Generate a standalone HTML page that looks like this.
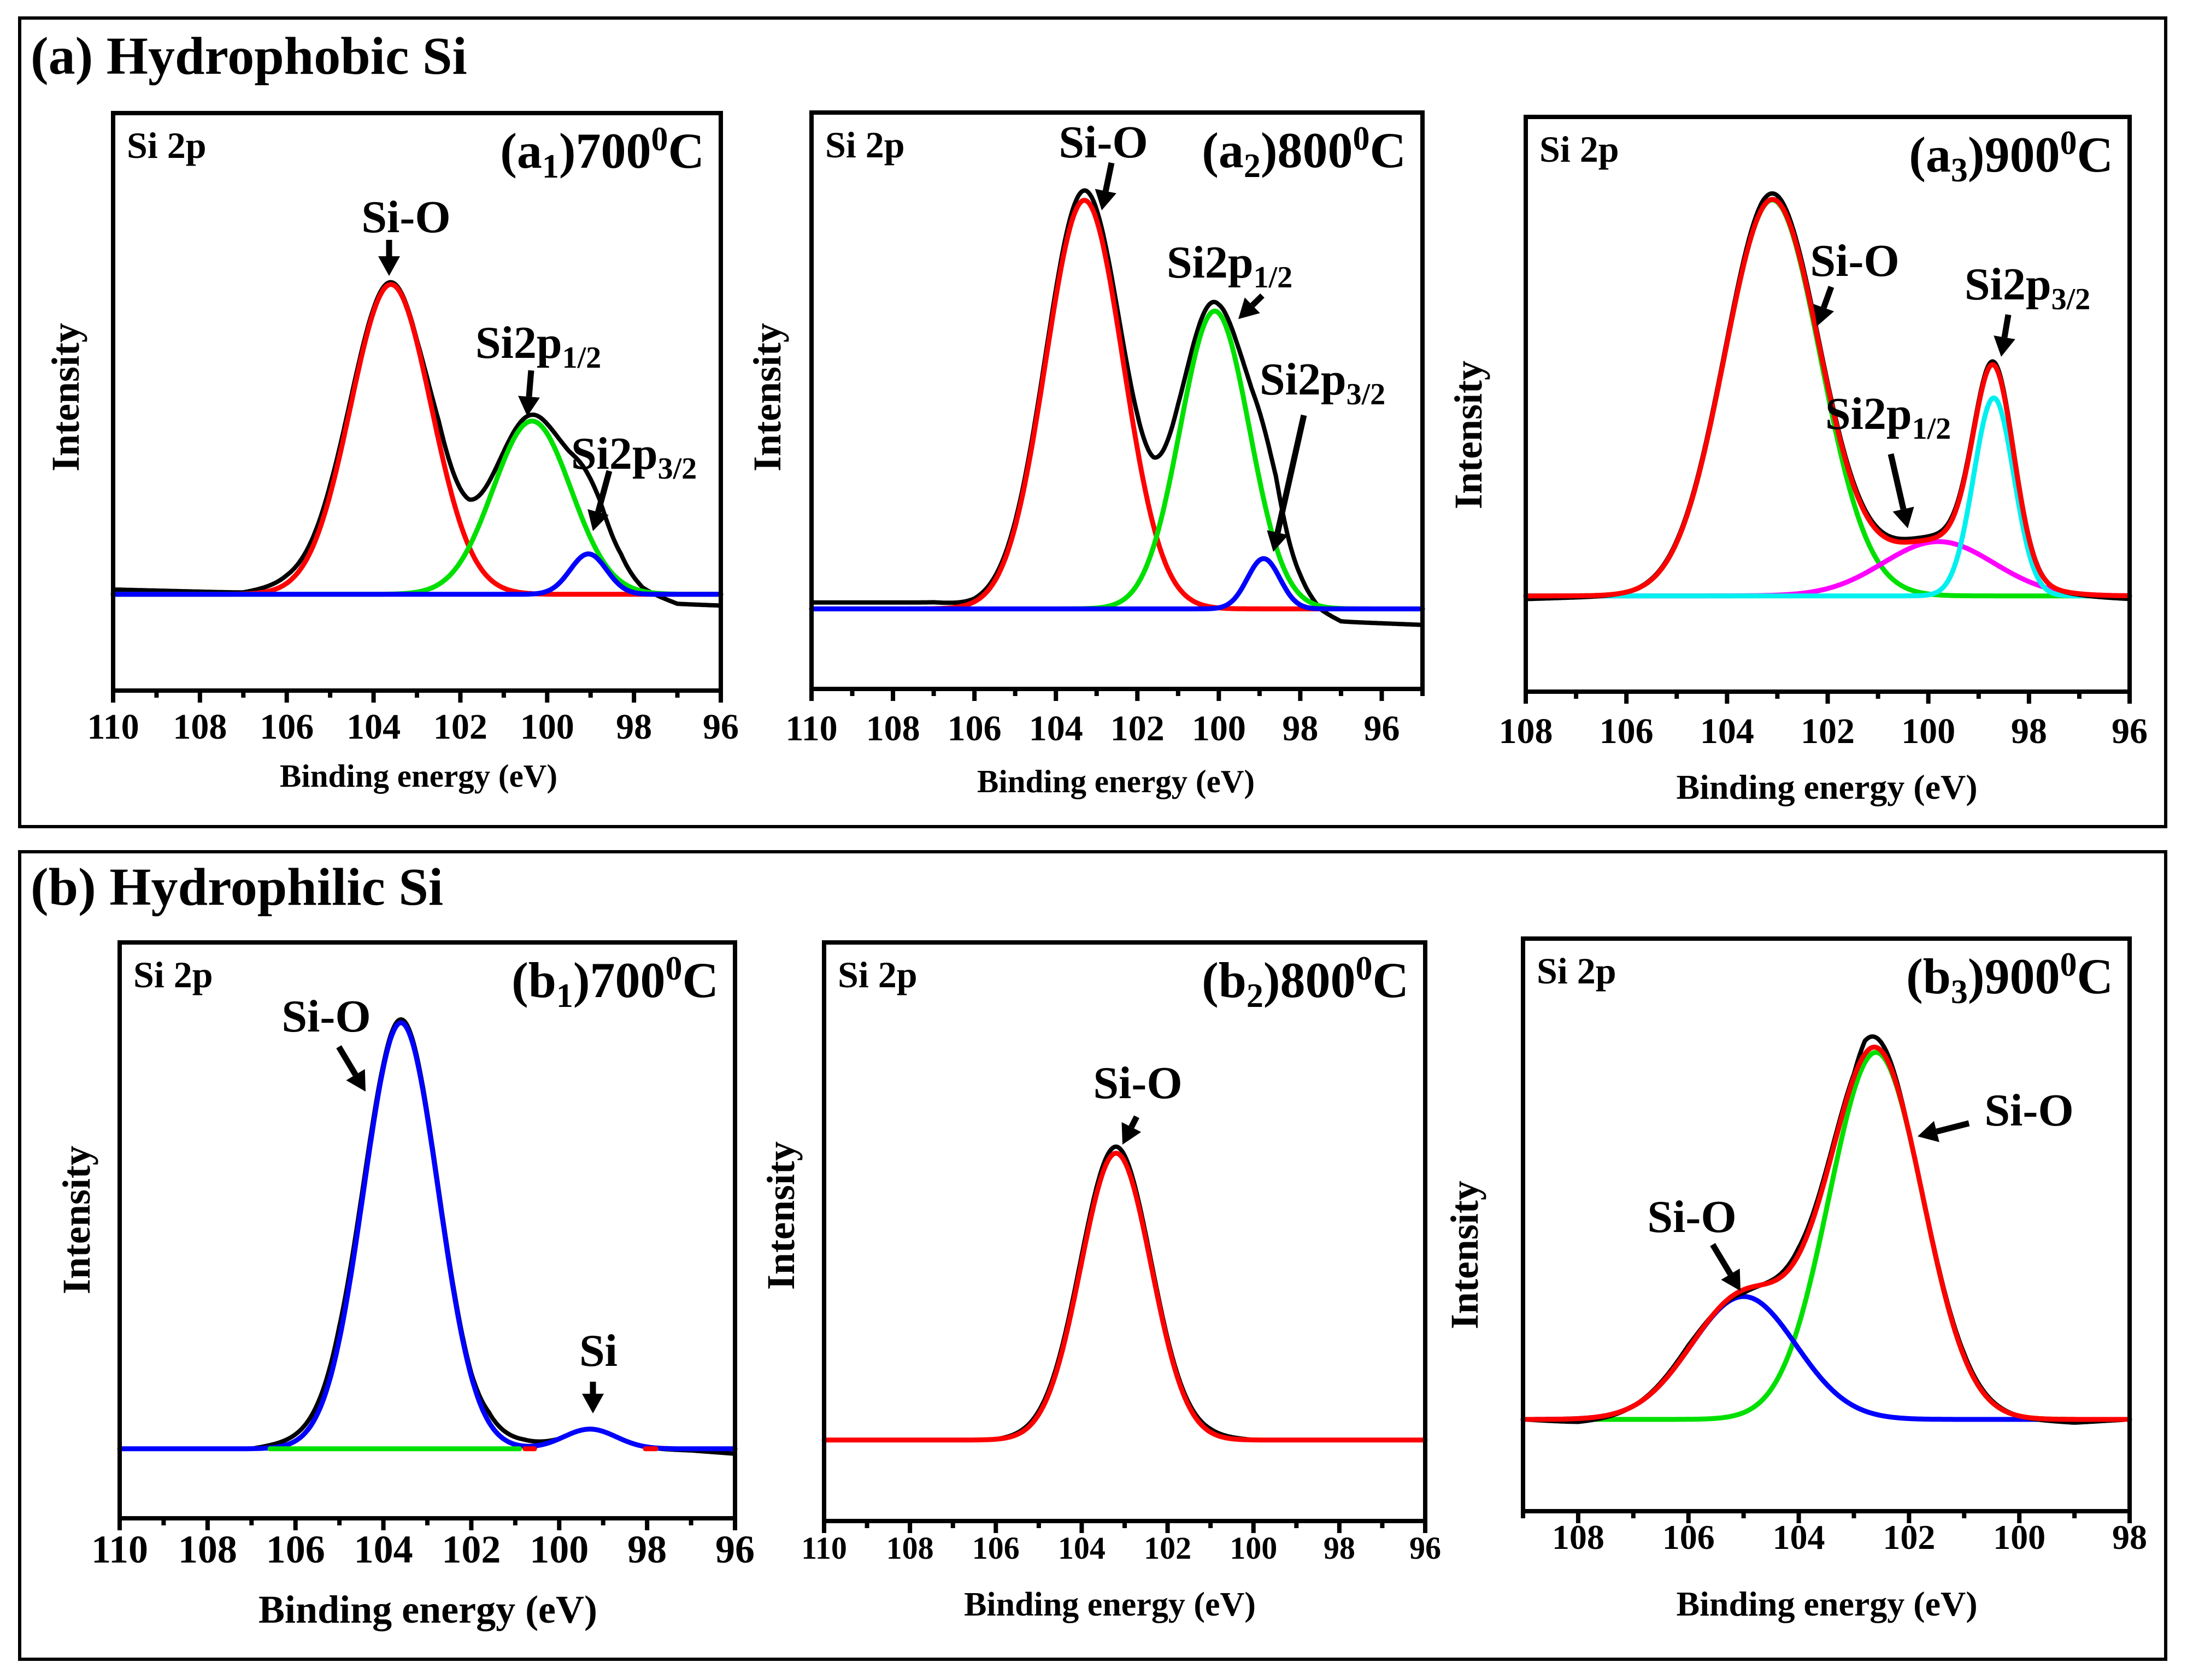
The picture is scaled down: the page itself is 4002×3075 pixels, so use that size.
<!DOCTYPE html>
<html><head><meta charset="utf-8">
<style>
html,body{margin:0;padding:0;background:#fff;}
svg{display:block;}
text{font-family:"Liberation Serif",serif;font-weight:bold;fill:#000;}
</style></head>
<body>
<svg id="fig" width="4002" height="3075" viewBox="0 0 4002 3075" xmlns="http://www.w3.org/2000/svg">
<rect x="0" y="0" width="4002" height="3075" fill="#fff"/>
<rect x="36" y="33" width="3927" height="1480" fill="none" stroke="#000" stroke-width="6"/>
<rect x="36" y="1559" width="3927" height="1478" fill="none" stroke="#000" stroke-width="6"/>
<text x="56" y="135" font-size="98">(a) Hydrophobic Si</text>
<text x="56" y="1656" font-size="98">(b) Hydrophilic Si</text>
</svg>
<script>
// ---- data arrays ----
const a1Centers=[103.6,100.35,99.05]; const a1Heights=[96.6,54,12.6]; const a1Sigmas=[0.93,0.9,0.42];
const a1DevE=[110,107,106,105,104,103,102.5,101.8,101,100,99.5,98.8,98.3,97.8,97,96];
const a1DevV=[1.5,0.5,2.5,3,1,0,3,0,1,2,3,7,6,1,-3,-3.5];
const a2Centers=[103.3,100.1,98.9]; const a2Heights=[127.6,93,15.7]; const a2Sigmas=[0.95,0.85,0.4];
const a2DevE=[110,107,106,104.5,103.3,102,101.6,101,100,99.2,98.6,98,97.5,97,96,95];
const a2DevV=[2,2,1,2,3,3,2,4,2,4,10,5,-1,-4,-4.5,-5];
const a3Centers=[103.1,99.8,98.7]; const a3Heights=[124,17,62]; const a3Sigmas=[0.95,1.1,0.4];
const a3DevE=[108,106,104,103.3,102,100.5,99.5,98.5,97.5,96];
const a3DevV=[-1,0,1,2,1,1,1,1,0,-1];
const b1Centers=[103.6,99.3]; const b1Heights=[130,6]; const b1Sigmas=[0.85,0.6];
const b1DevE=[110,107,106,105,104,102,101.6,100.8,100,98,97,96];
const b1DevV=[0,0,2,4,1,1,3,2,0,0,-0.5,-1.5];
const b2Centers=[103.2]; const b2Heights=[87.5]; const b2Sigmas=[0.82];
const b2DevE=[110,106,105,104,103.2,102,101,100,98,96];
const b2DevV=[0,0,1,2,2,1,1,0,0,0];
const b3Centers=[102.6,105.0]; const b3Heights=[112,37.5]; const b3Sigmas=[0.85,0.95];
const b3DevE=[109,108,107,106,105,104,103,102.8,102,101,100,99,98];
const b3DevV=[0,-1,0,1,-1,2,1,4,0,1,0,-1,0];
const ticksA12=[110,108,106,104,102,100,98,96];
const ticksA3=[108,106,104,102,100,98,96];
const ticksB3=[108,106,104,102,100,98];

const NS="http://www.w3.org/2000/svg";
const svg=document.getElementById('fig');
function mk(tag,attrs,parent){const e=document.createElementNS(NS,tag);for(const k in attrs)e.setAttribute(k,attrs[k]);(parent||svg).appendChild(e);return e;}
function gauss(x,c,h,s){return h*Math.exp(-0.5*((x-c)/s)**2);}
function interp(x,xs,ys){for(let i=0;i<xs.length-1;i++){const a=xs[i],b=xs[i+1];if((x<=a&&x>=b)||(x>=a&&x<=b)){const t=(x-a)/(b-a||1);return ys[i]+t*(ys[i+1]-ys[i]);}}return ys[ys.length-1];}

function panel(p){
  const g=mk('g',{});
  
  
  const X=e=>p.x0+(p.xmax-e)/(p.xmax-p.xmin)*(p.x1-p.x0);
  const Y=v=>p.y1-(v-p.ymin)/(p.ymax-p.ymin)*(p.y1-p.y0);
  const E=[];for(let e=p.xmax;e>=p.xmin-1e-9;e-=0.02)E.push(e);
  function path(fn,color,w,name,filter){
    let d='';let pen=false;
    E.forEach(e=>{if(filter&&!filter(e)){pen=false;return;}const v=Math.max(p.ymin,Math.min(p.ymax,fn(e)));d+=(pen?'L':'M')+X(e).toFixed(1)+' '+Y(v).toFixed(1);pen=true;});
    const el=mk('path',{d:d,fill:'none',stroke:color,'stroke-width':w,'stroke-linejoin':'round','stroke-linecap':'round'},g);
    
    
  }
  const comp=i=>e=>gauss(e,p.c[i],p.h[i],p.s[i]);
  const env=e=>p.c.reduce((s,_,i)=>s+gauss(e,p.c[i],p.h[i],p.s[i]),0);
  const raw=e=>env(e)+interp(e,p.devE,p.devV);
  p.order.forEach(o=>{
    if(o[0]==='raw')path(raw,'#000',8,'raw-data');
    else if(o[0]==='env')path(env,o[1],9,'fit-envelope',o[2]);
    else if(o[0]==='base')path(e=>0,o[1],9,'background-line',o[2]);
    else path(comp(o[0]),o[1],9,'peak-'+o[3],o[2]);
  });
  const fr=mk('rect',{x:p.x0,y:p.y0,width:p.x1-p.x0,height:p.y1-p.y0,fill:'none',stroke:'#000','stroke-width':8},g);
  
  
  for(let e=Math.ceil(p.xmin);e<=p.xmax;e++){
    const major=p.ticks.indexOf(e)>=0;
    const t=mk('line',{x1:X(e),x2:X(e),y1:p.y1,y2:p.y1+(major?22:13),stroke:'#000','stroke-width':8},g);
    
    
  }
  p.ticks.forEach(e=>{
    const t=mk('text',{x:X(e),y:p.tickY,'font-size':p.tickFs,'text-anchor':'middle'},g);t.textContent=e;
    
    
  });
  const xl=mk('text',{x:p.xl[0],y:p.xl[1],'font-size':p.xlFs,'text-anchor':'middle'},g);xl.textContent='Binding energy (eV)';
  
  
  const yl=mk('text',{x:0,y:0,'font-size':p.ylFs,'text-anchor':'middle','dominant-baseline':'central',transform:`translate(${p.yl[0]},${p.yl[1]}) rotate(-90)`},g);yl.textContent='Intensity';
  
  
  const s=mk('text',{x:p.x0+25,y:p.y0+82,'font-size':68},g);s.textContent='Si 2p';
  
  
  const tt=mk('text',{x:p.x1-30,y:p.y0+100,'font-size':92,'text-anchor':'end'},g);
  tt.innerHTML=`(${p.tl[0]}<tspan font-size="62" dy="18">${p.tl[1]}</tspan><tspan dy="-18">)${p.tl[2]}</tspan><tspan font-size="62" dy="-32">0</tspan><tspan dy="32">C</tspan>`;
  
  
  p.ann.forEach(a=>{
    const t=mk('text',{x:a.t[0],y:a.t[1],'font-size':84,'text-anchor':'middle'},g);
    if(a.sub)t.innerHTML=`${a.label}<tspan font-size="56" dy="18">${a.sub}</tspan>`;else t.textContent=a.label;
    
    
    const [x1,y1,x2,y2]=a.a;const dx=x2-x1,dy=y2-y1,L=Math.hypot(dx,dy),ux=dx/L,uy=dy/L;
    const hl=36,hw=20;const bx=x2-ux*hl,by=y2-uy*hl;
    const ln=mk('line',{x1:x1,y1:y1,x2:bx,y2:by,stroke:'#000','stroke-width':11},g);
    
    
    const hd=mk('polygon',{points:`${x2},${y2} ${bx-uy*hw},${by+ux*hw} ${bx+uy*hw},${by-ux*hw}`,fill:'#000'},g);
    
    
  });
}

const R='#ff0000',G='#00e000',B='#0000ff',M='#ff00ff',C='#00f0f0';
panel({name:'panel-a1',x0:207,x1:1319,y0:207,y1:1264,xmax:110,xmin:96,ymin:-30,ymax:150,
 c:a1Centers,h:a1Heights,s:a1Sigmas,devE:a1DevE,devV:a1DevV,ticks:ticksA12,tickY:1352,tickFs:66,
 order:[['raw'],[0,R,null,'si-o'],[1,G,null,'si2p12'],[2,B,null,'si2p32']],
 xl:[766,1440],xlFs:59,yl:[120,727],ylFs:72,tl:['a','1','700'],
 ann:[{label:'Si-O',t:[743,425],a:[712,439,712,505]},
      {label:'Si2p',sub:'1/2',t:[985,655],a:[972,678,965,762]},
      {label:'Si2p',sub:'3/2',t:[1160,858],a:[1115,862,1085,972]}]});
panel({name:'panel-a2',x0:1485,x1:2603,y0:206,y1:1261,xmax:110,xmin:95,ymin:-25,ymax:155,
 c:a2Centers,h:a2Heights,s:a2Sigmas,devE:a2DevE,devV:a2DevV,ticks:ticksA12,tickY:1355,tickFs:66,
 order:[['raw'],[0,R,null,'si-o'],[1,G,null,'si2p12'],[2,B,null,'si2p32']],
 xl:[2042,1450],xlFs:59,yl:[1404,727],ylFs:72,tl:['a','2','800'],
 ann:[{label:'Si-O',t:[2019,288],a:[2034,298,2016,385]},
      {label:'Si2p',sub:'1/2',t:[2250,508],a:[2310,541,2266,584]},
      {label:'Si2p',sub:'3/2',t:[2420,722],a:[2386,760,2330,1010]}]});
panel({name:'panel-a3',x0:2792,x1:3897,y0:214,y1:1266,xmax:108,xmin:96,ymin:-30,ymax:150,
 c:a3Centers,h:a3Heights,s:a3Sigmas,devE:a3DevE,devV:a3DevV,ticks:ticksA3,tickY:1360,tickFs:66,
 order:[[0,G,null,'si-o'],[1,M,null,'si2p12'],[2,C,null,'si2p32'],['raw'],['env',R,null]],
 xl:[3343,1462],xlFs:64,yl:[2687,796],ylFs:72,tl:['a','3','900'],
 ann:[{label:'Si-O',t:[3394,505],a:[3351,525,3325,597]},
      {label:'Si2p',sub:'3/2',t:[3710,548],a:[3675,576,3662,653]},
      {label:'Si2p',sub:'1/2',t:[3455,785],a:[3460,831,3491,967]}]});
panel({name:'panel-b1',x0:219,x1:1345,y0:1725,y1:2779,xmax:110,xmin:96,ymin:-21.2,ymax:154.5,
 c:b1Centers,h:b1Heights,s:b1Sigmas,devE:b1DevE,devV:b1DevV,ticks:ticksA12,tickY:2860,tickFs:72,
 order:[['raw'],['env',B,null],['base',G,e=>e<106.6&&e>100.9],['base',R,e=>e<100.8&&e>97.8&&Math.abs(e-99.3)>1.25]],
 xl:[783,2970],xlFs:72,yl:[140,2233],ylFs:72,tl:['b','1','700'],
 ann:[{label:'Si-O',t:[597,1888],a:[620,1916,669,1998]},
      {label:'Si',t:[1095,2500],a:[1085,2529,1085,2587]}]});
panel({name:'panel-b2',x0:1508,x1:2608,y0:1725,y1:2784,xmax:110,xmin:96,ymin:-24.7,ymax:151.8,
 c:b2Centers,h:b2Heights,s:b2Sigmas,devE:b2DevE,devV:b2DevV,ticks:ticksA12,tickY:2853,tickFs:58,
 order:[['raw'],[0,R,null,'si-o']],
 xl:[2031,2957],xlFs:62,yl:[1429,2225],ylFs:72,tl:['b','2','800'],
 ann:[{label:'Si-O',t:[2082,2010],a:[2080,2044,2054,2095]}]});
panel({name:'panel-b3',x0:2787,x1:3897,y0:1718,y1:2766,xmax:109,xmin:98,ymin:-28,ymax:146.7,
 c:b3Centers,h:b3Heights,s:b3Sigmas,devE:b3DevE,devV:b3DevV,ticks:ticksB3,tickY:2835,tickFs:64,
 order:[[0,G,null,'si-o-main'],[1,B,null,'si-o-shoulder'],['raw'],['env',R,null]],
 xl:[3343,2957],xlFs:64,yl:[2680,2297],ylFs:72,tl:['b','3','900'],
 ann:[{label:'Si-O',t:[3713,2060],a:[3603,2056,3509,2080]},
      {label:'Si-O',t:[3096,2255],a:[3134,2278,3185,2363]}]});
</script>
</body></html>
